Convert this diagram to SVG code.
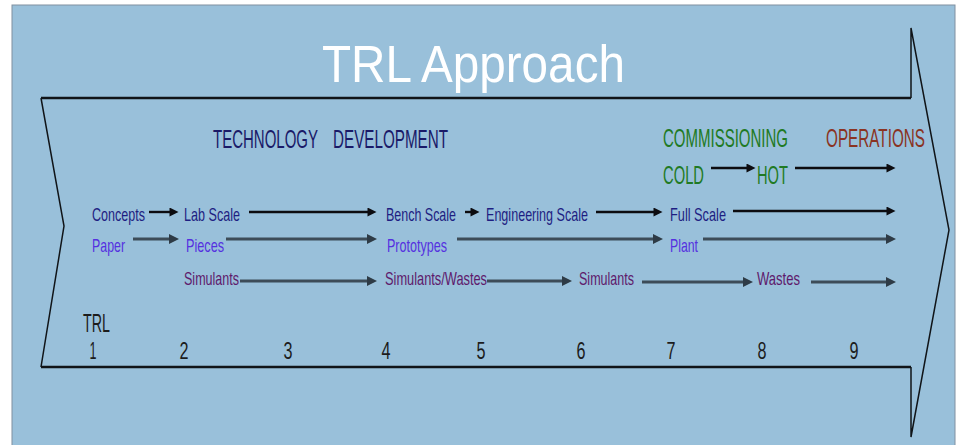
<svg xmlns="http://www.w3.org/2000/svg" width="961" height="445" viewBox="0 0 961 445">
  <style>
    text { font-family: "Liberation Sans", Arial, sans-serif; }
    .title { fill: #ffffff; font-size: 51px; }
    .phase { font-size: 26px; }
    .tech { fill: #1a1a68; }
    .comm { fill: #1f7a24; }
    .ops { fill: #8a3322; }
    .lbl { font-size: 19px; }
    .scale { fill: #1e1e82; }
    .form { fill: #5530e0; }
    .mat { fill: #5e1a6c; }
    .num { fill: #1c1c1c; font-size: 24px; text-anchor: middle; }
    .outline { fill: none; stroke: #101418; stroke-linejoin: miter; }
    .a-dark { fill: none; stroke: #0c0c10; stroke-width: 2.4; marker-end: url(#headDark); }
    .a-slate { fill: none; stroke: #3d4c58; stroke-width: 3; marker-end: url(#headSlate); }
  </style>
  <defs>
    <marker id="headDark" viewBox="0 0 10 10" refX="5" refY="5" markerWidth="10" markerHeight="9" markerUnits="userSpaceOnUse" orient="auto">
      <path d="M0,0 L10,5 L0,10 z" fill="#0c0c10"/>
    </marker>
    <marker id="headSlate" viewBox="0 0 10 10" refX="5" refY="5" markerWidth="10" markerHeight="10" markerUnits="userSpaceOnUse" orient="auto">
      <path d="M0,0 L10,5 L0,10 z" fill="#2e3b46"/>
    </marker>
  </defs>

  <!-- slide background -->
  <rect x="0" y="0" width="961" height="445" fill="#ffffff"/>
  <rect x="12" y="5" width="943" height="441" fill="#99c0da" stroke="#8090a0" stroke-width="1"/>

  <!-- big process arrow -->
  <g id="process-arrow">
    <path class="outline" stroke-width="1.5" d="M41,98 L64,226 L41,367"/>
    <path class="outline" stroke-width="2.4" d="M41,98 L911,98 M41,367 L911,367"/>
    <path class="outline" stroke-width="1.5" d="M911,98 L911,28 L949,230 L911,437 L911,367"/>
  </g>

  <g id="title">
    <text class="title" x="322" y="82" textLength="303" lengthAdjust="spacingAndGlyphs">TRL Approach</text>
  </g>

  <!-- phase headings -->
  <g id="phase-technology">
    <text class="phase tech" y="148"><tspan x="213" textLength="105" lengthAdjust="spacingAndGlyphs">TECHNOLOGY</tspan><tspan x="333" textLength="115" lengthAdjust="spacingAndGlyphs">DEVELOPMENT</tspan></text>
  </g>
  <g id="phase-commissioning">
    <text class="phase comm" x="663" y="147" textLength="125" lengthAdjust="spacingAndGlyphs">COMMISSIONING</text>
  </g>
  <g id="phase-operations">
    <text class="phase ops" x="826" y="147" textLength="99" lengthAdjust="spacingAndGlyphs">OPERATIONS</text>
  </g>
  <g id="cold">
    <text class="phase comm" x="663" y="184" textLength="41" lengthAdjust="spacingAndGlyphs">COLD</text>
  </g>
  <g id="hot">
    <text class="phase comm" x="757" y="184" textLength="31" lengthAdjust="spacingAndGlyphs">HOT</text>
  </g>

  <!-- scale row -->
  <g id="concepts"><text class="lbl scale" x="92" y="221" textLength="53" lengthAdjust="spacingAndGlyphs">Concepts</text></g>
  <g id="lab-scale"><text class="lbl scale" x="184" y="221" textLength="56" lengthAdjust="spacingAndGlyphs">Lab Scale</text></g>
  <g id="bench-scale"><text class="lbl scale" x="386" y="221" textLength="70" lengthAdjust="spacingAndGlyphs">Bench Scale</text></g>
  <g id="engineering-scale"><text class="lbl scale" x="486" y="221" textLength="102" lengthAdjust="spacingAndGlyphs">Engineering Scale</text></g>
  <g id="full-scale"><text class="lbl scale" x="670" y="221" textLength="56" lengthAdjust="spacingAndGlyphs">Full Scale</text></g>

  <!-- form row -->
  <g id="paper"><text class="lbl form" x="92" y="252" textLength="33" lengthAdjust="spacingAndGlyphs">Paper</text></g>
  <g id="pieces"><text class="lbl form" x="186" y="252" textLength="38" lengthAdjust="spacingAndGlyphs">Pieces</text></g>
  <g id="prototypes"><text class="lbl form" x="387" y="252" textLength="60" lengthAdjust="spacingAndGlyphs">Prototypes</text></g>
  <g id="plant"><text class="lbl form" x="670" y="252" textLength="28" lengthAdjust="spacingAndGlyphs">Plant</text></g>

  <!-- material row -->
  <g id="simulants-1"><text class="lbl mat" x="184" y="285" textLength="55" lengthAdjust="spacingAndGlyphs">Simulants</text></g>
  <g id="simulants-wastes"><text class="lbl mat" x="385" y="285" textLength="102" lengthAdjust="spacingAndGlyphs">Simulants/Wastes</text></g>
  <g id="simulants-2"><text class="lbl mat" x="579" y="285" textLength="55" lengthAdjust="spacingAndGlyphs">Simulants</text></g>
  <g id="wastes"><text class="lbl mat" x="757" y="285" textLength="43" lengthAdjust="spacingAndGlyphs">Wastes</text></g>

  <!-- TRL scale -->
  <g id="trl-axis">
    <text x="83" y="332" fill="#1c1c1c" font-size="26" textLength="27" lengthAdjust="spacingAndGlyphs">TRL</text>
    <text class="num" x="93" y="359" textLength="7" lengthAdjust="spacingAndGlyphs">1</text>
    <text class="num" x="184" y="359" textLength="9" lengthAdjust="spacingAndGlyphs">2</text>
    <text class="num" x="288" y="359" textLength="9" lengthAdjust="spacingAndGlyphs">3</text>
    <text class="num" x="386" y="359" textLength="9" lengthAdjust="spacingAndGlyphs">4</text>
    <text class="num" x="481" y="359" textLength="9" lengthAdjust="spacingAndGlyphs">5</text>
    <text class="num" x="581" y="359" textLength="9" lengthAdjust="spacingAndGlyphs">6</text>
    <text class="num" x="671" y="359" textLength="9" lengthAdjust="spacingAndGlyphs">7</text>
    <text class="num" x="762" y="359" textLength="9" lengthAdjust="spacingAndGlyphs">8</text>
    <text class="num" x="854" y="359" textLength="9" lengthAdjust="spacingAndGlyphs">9</text>
  </g>

  <!-- connectors -->
  <g id="connectors">
    <path class="a-dark" d="M711,168 L751,168"/>
    <path class="a-dark" d="M795,168 L891,168"/>

    <path class="a-dark" d="M149,212 L174,212"/>
    <path class="a-dark" d="M249,212 L372,212"/>
    <path class="a-dark" d="M465,212 L475,212"/>
    <path class="a-dark" d="M596,212 L658,212"/>
    <path class="a-dark" d="M733,211 L891,211"/>

    <path class="a-slate" d="M133,239 L174,239"/>
    <path class="a-slate" d="M226,239 L372,239"/>
    <path class="a-slate" d="M457,239 L658,239"/>
    <path class="a-slate" d="M703,239 L891,239"/>

    <path class="a-slate" d="M240,281 L372,281"/>
    <path class="a-slate" d="M487,281 L567,281"/>
    <path class="a-slate" d="M642,282 L748,282"/>
    <path class="a-slate" d="M811,282 L891,282"/>
  </g>
</svg>
